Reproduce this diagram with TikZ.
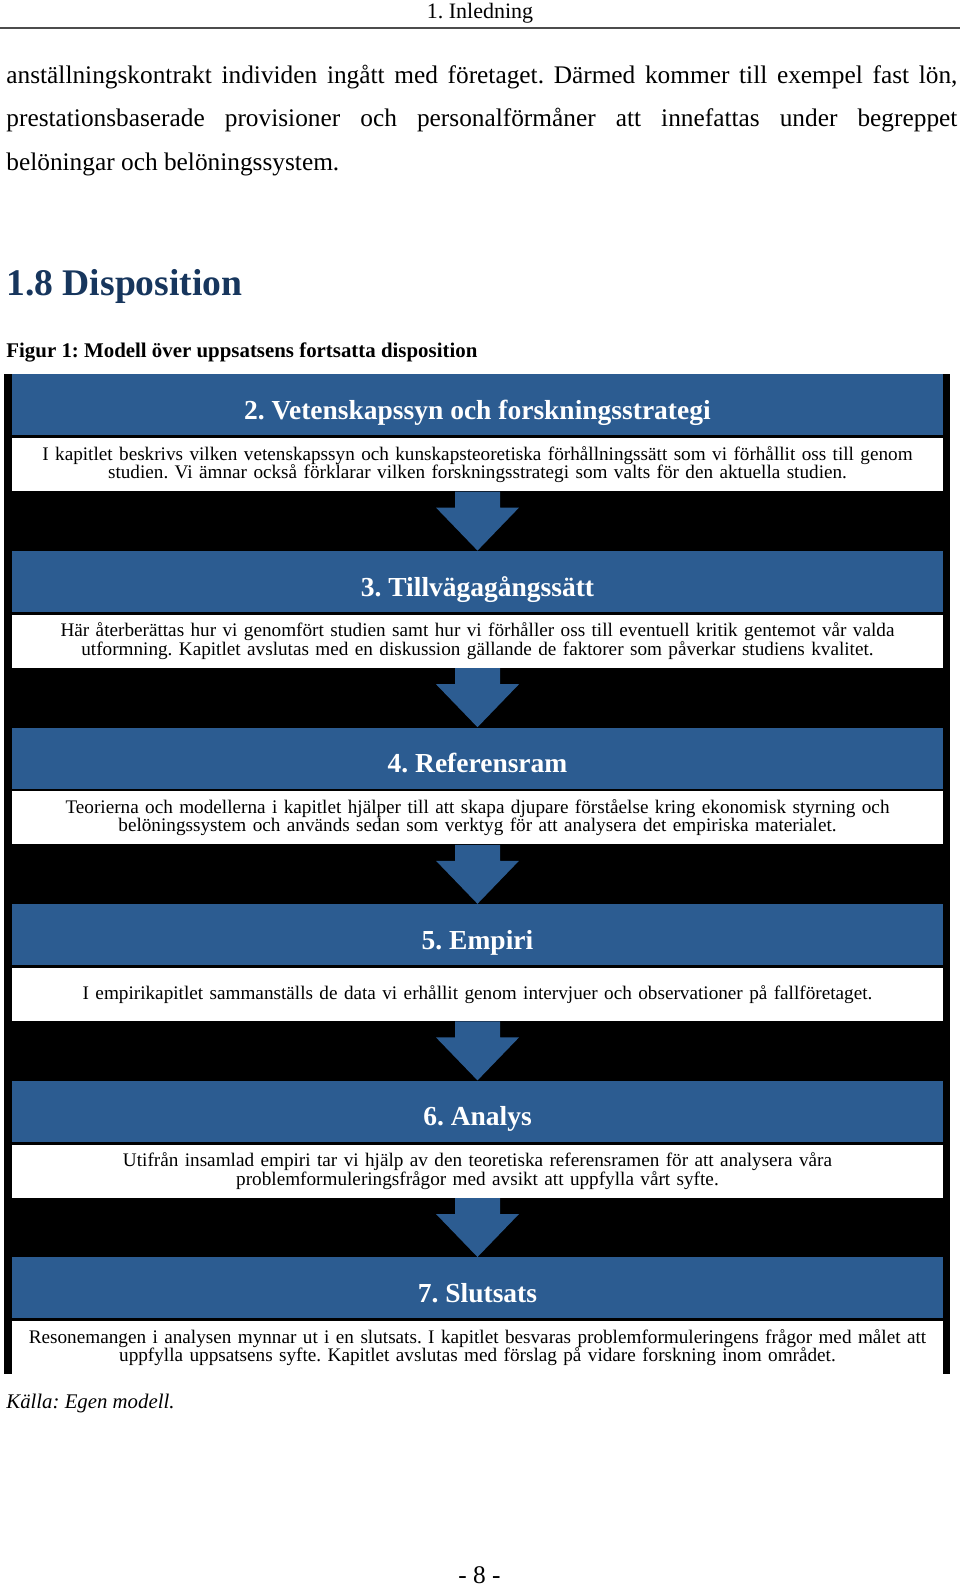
\documentclass[tikz,border=0pt]{standalone}
\usepackage{fontspec}
\setmainfont{Liberation Serif}
\usepackage{tikz}
\usetikzlibrary{positioning,calc}
\frenchspacing
\definecolor{chapblue}{RGB}{44,92,145}
\definecolor{headblue}{RGB}{23,54,93}
\tikzstyle{chapter} = [rectangle, fill=chapblue, text=white, inner sep=0pt, %
   minimum width=465.5pt, text height=22.5pt, text depth=8pt, %
   font=\fontsize{13.75}{15}\selectfont\bfseries]
\tikzstyle{summary} = [rectangle, fill=white, inner sep=0pt, minimum height=26.5pt, %
   text width=465.5pt, align=center, font=\fontsize{9.6}{9.2}\selectfont]
\tikzstyle{bodyline} = [anchor=base west, inner sep=0pt, font=\fontsize{12.67}{21.75}\selectfont]
\tikzstyle{flow} = [fill=chapblue]

\begin{document}
\begin{tikzpicture}[x=0.5pt, y=-0.5pt]
   \useasboundingbox (0,0) rectangle (960,1586);

   % Page head and running text
   \node[anchor=base, inner sep=0pt, font=\fontsize{11}{13}\selectfont](header) at (480,18.5){1. Inledning};
   \draw[line width=1pt, black!70] (0,27.5) -- (960,27.5);

   \node[bodyline](line1) at (6,83){\makebox[475.5pt][s]{anställningskontrakt individen ingått med företaget. Därmed kommer till exempel fast lön,}};
   \node[bodyline](line2) at (6,126.5){\makebox[475.5pt][s]{prestationsbaserade provisioner och personalförmåner att innefattas under begreppet}};
   \node[bodyline](line3) at (6,170){belöningar och belöningssystem.};

   \node[anchor=base west, inner sep=0pt, text=headblue, %
      font=\fontsize{18.8}{22}\selectfont\bfseries](section) at (6,295){1.8 Disposition};
   \node[anchor=base west, inner sep=0pt, font=\fontsize{10.44}{12}\selectfont\bfseries](caption) %
      at (6,357){Figur 1: Modell över uppsatsens fortsatta disposition};

   % Figure background
   \fill[black] (4,374) rectangle (950,1374);

   % Chapter boxes
   \node[chapter, anchor=north](t2) at (477.5,374){2. Vetenskapssyn och forskningsstrategi};
   \node[summary, below=1pt of t2](d2){%
      I kapitlet beskrivs vilken vetenskapssyn och kunskapsteoretiska förhållningssätt som vi förhållit oss till genom\\
      studien. Vi ämnar också förklarar vilken forskningsstrategi som valts för den aktuella studien.};

   \node[chapter, below=29.5pt of d2](t3){3. Tillvägagångssätt};
   \node[summary, below=1pt of t3](d3){%
      Här återberättas hur vi genomfört studien samt hur vi förhåller oss till eventuell kritik gentemot vår valda\\
      utformning. Kapitlet avslutas med en diskussion gällande de faktorer som påverkar studiens kvalitet.};

   \node[chapter, below=29.5pt of d3](t4){4. Referensram};
   \node[summary, below=1pt of t4](d4){%
      Teorierna och modellerna i kapitlet hjälper till att skapa djupare förståelse kring ekonomisk styrning och\\
      belöningssystem och används sedan som verktyg för att analysera det empiriska materialet.};

   \node[chapter, below=29.5pt of d4](t5){5. Empiri};
   \node[summary, below=1pt of t5](d5){%
      I empirikapitlet sammanställs de data vi erhållit genom intervjuer och observationer på fallföretaget.};

   \node[chapter, below=29.5pt of d5](t6){6. Analys};
   \node[summary, below=1pt of t6](d6){%
      Utifrån insamlad empiri tar vi hjälp av den teoretiska referensramen för att analysera våra\\
      problemformuleringsfrågor med avsikt att uppfylla vårt syfte.};

   \node[chapter, below=29.5pt of d6](t7){7. Slutsats};
   \node[summary, below=1pt of t7](d7){%
      Resonemangen i analysen mynnar ut i en slutsats. I kapitlet besvaras problemformuleringens frågor med målet att\\
      uppfylla uppsatsens syfte. Kapitlet avslutas med förslag på vidare forskning inom området.};

   % Block arrows
   \foreach \i/\j in {2/3,3/4,4/5,5/6,6/7}
      \fill[flow] ([xshift=-11.25pt]d\i.south) -- ([xshift=11.25pt]d\i.south)
         -- ([xshift=11.25pt,yshift=21.5pt]t\j.north) -- ([xshift=20.75pt,yshift=21.5pt]t\j.north)
         -- (t\j.north)
         -- ([xshift=-20.75pt,yshift=21.5pt]t\j.north) -- ([xshift=-11.25pt,yshift=21.5pt]t\j.north) -- cycle;

   % Source and page number
   \node[anchor=base west, inner sep=0pt, font=\fontsize{10.4}{12}\selectfont\itshape](source) %
      at (6,1408){Källa: Egen modell.};
   \node[anchor=base, inner sep=0pt, font=\fontsize{12.67}{14}\selectfont](pageno) at (479.5,1583){- 8 -};

\end{tikzpicture}
\end{document}
